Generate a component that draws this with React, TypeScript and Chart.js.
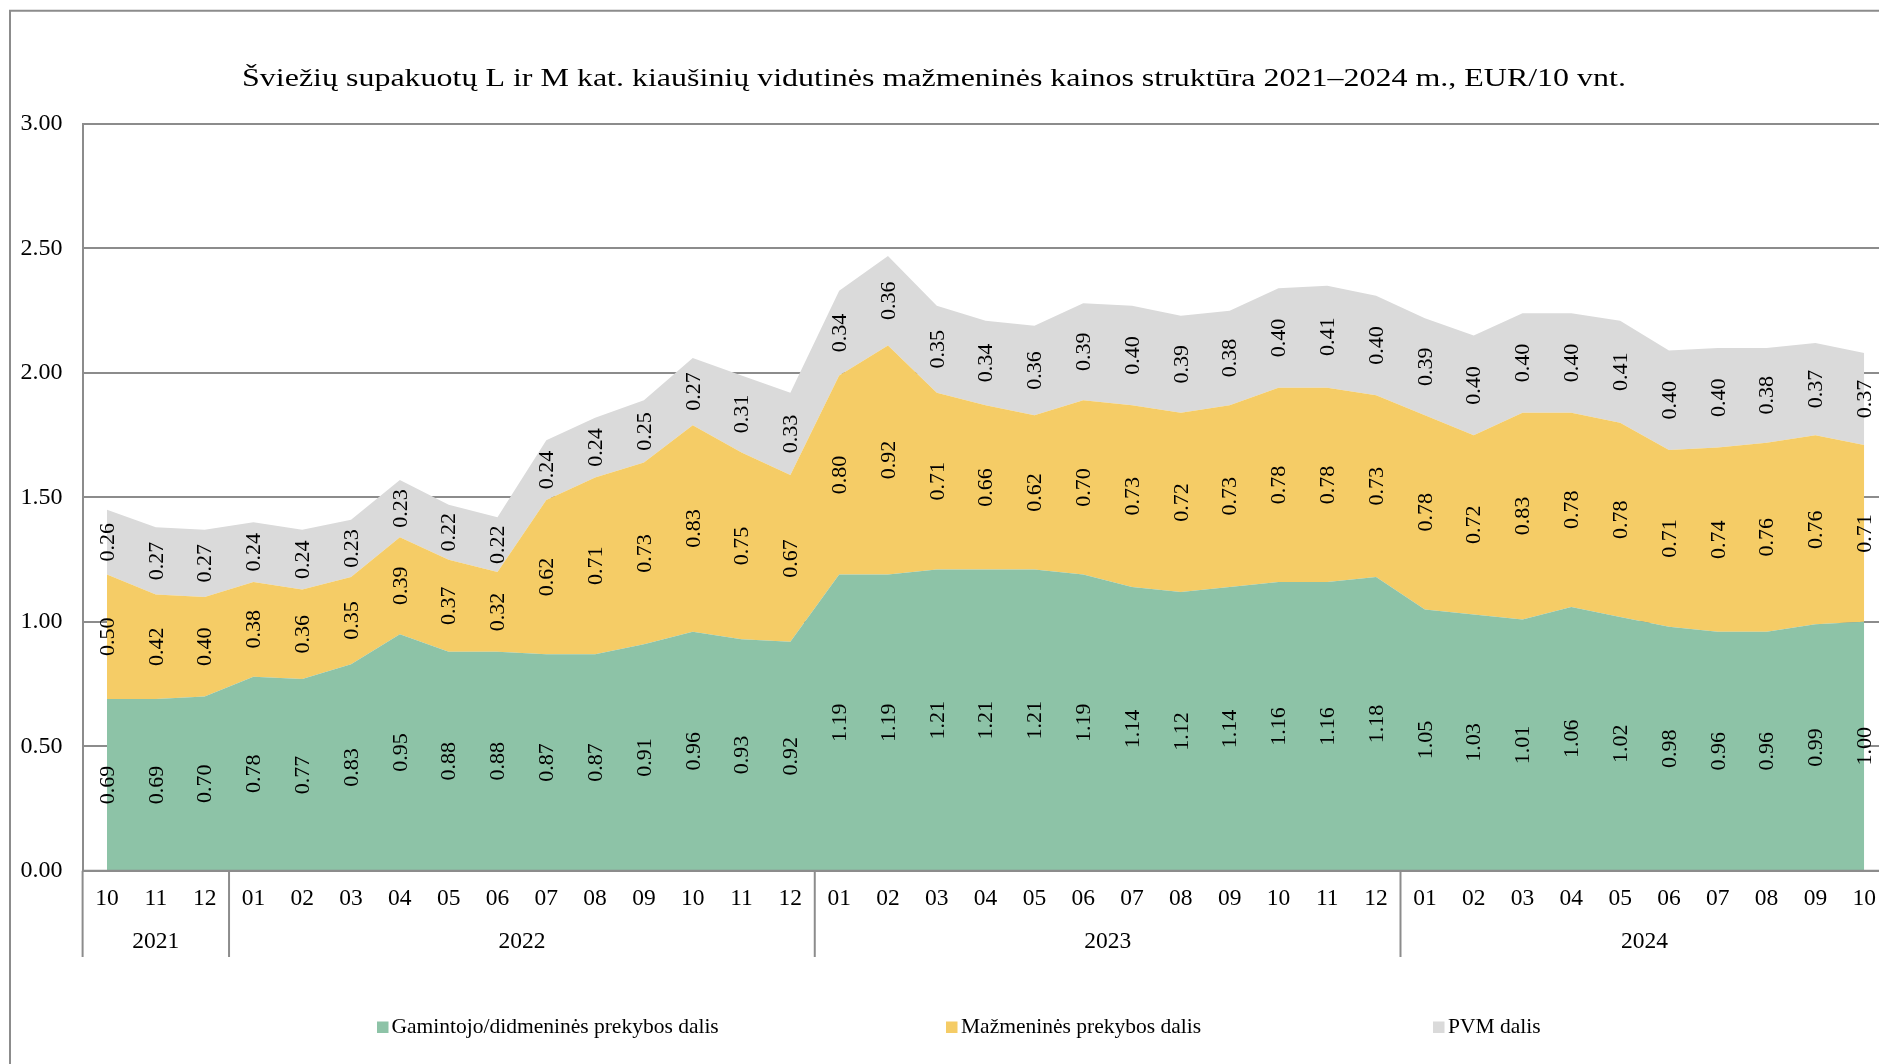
import React, { useEffect, useRef } from "react";
import { Chart, registerables } from "chart.js";

Chart.register(...registerables);

// ---------- DATA ----------
const months = [
  "10", "11", "12",
  "01", "02", "03", "04", "05", "06", "07", "08", "09", "10", "11", "12",
  "01", "02", "03", "04", "05", "06", "07", "08", "09", "10", "11", "12",
  "01", "02", "03", "04", "05", "06", "07", "08", "09", "10",
];
const yearLabels = ["2021", "2022", "2023", "2024"];
const yearCounts = [3, 12, 12, 10];

const producerShare = [
  0.69, 0.69, 0.70,
  0.78, 0.77, 0.83, 0.95, 0.88, 0.88, 0.87, 0.87, 0.91, 0.96, 0.93, 0.92,
  1.19, 1.19, 1.21, 1.21, 1.21, 1.19, 1.14, 1.12, 1.14, 1.16, 1.16, 1.18,
  1.05, 1.03, 1.01, 1.06, 1.02, 0.98, 0.96, 0.96, 0.99, 1.00,
];
const retailShare = [
  0.50, 0.42, 0.40,
  0.38, 0.36, 0.35, 0.39, 0.37, 0.32, 0.62, 0.71, 0.73, 0.83, 0.75, 0.67,
  0.80, 0.92, 0.71, 0.66, 0.62, 0.70, 0.73, 0.72, 0.73, 0.78, 0.78, 0.73,
  0.78, 0.72, 0.83, 0.78, 0.78, 0.71, 0.74, 0.76, 0.76, 0.71,
];
const vatShare = [
  0.26, 0.27, 0.27,
  0.24, 0.24, 0.23, 0.23, 0.22, 0.22, 0.24, 0.24, 0.25, 0.27, 0.31, 0.33,
  0.34, 0.36, 0.35, 0.34, 0.36, 0.39, 0.40, 0.39, 0.38, 0.40, 0.41, 0.40,
  0.39, 0.40, 0.40, 0.40, 0.41, 0.40, 0.40, 0.38, 0.37, 0.37,
];
const seriesNames = [
  "Gamintojo/didmeninės prekybos dalis",
  "Mažmeninės prekybos dalis",
  "PVM dalis",
];
const titleText =
  "Šviežių supakuotų L ir M kat. kiaušinių vidutinės mažmeninės kainos struktūra 2021–2024 m., EUR/10 vnt.";
const yMin = 0;
const yMax = 3;
const yStep = 0.5;

// ---------- STYLE ----------
const FONT = "'Liberation Serif', 'Times New Roman', Times, serif";
const COLORS = ["#8DC3A7", "#F5CC66", "#DADADA"];
const LINE = "#8C8C8C";

const CANVAS_W = 1920;
const CANVAS_H = 1056;
const AREA_LEFT = 74.6;
const AREA_RIGHT = 1880.6;
const AREA_TOP = 116;
const AREA_BOTTOM = 862.8;

const legendPos = [
  { box: 369, text: 383.5 },
  { box: 938, text: 953 },
  { box: 1425, text: 1440 },
];

const decorPlugin = {
  id: "decor",
  beforeDraw(chart: any) {
    const ctx = chart.ctx;
    ctx.save();
    ctx.fillStyle = "#fff";
    ctx.fillRect(0, 0, chart.width, chart.height);
    // outer frame (top + left)
    ctx.strokeStyle = LINE;
    ctx.lineWidth = 2;
    ctx.beginPath();
    ctx.moveTo(2, chart.height + 5);
    ctx.lineTo(2, 2.7);
    ctx.lineTo(chart.width + 5, 2.7);
    ctx.stroke();
    // title
    ctx.fillStyle = "#000";
    ctx.font = `26px ${FONT}`;
    ctx.textAlign = "center";
    ctx.textBaseline = "alphabetic";
    ctx.translate(926, 78);
    ctx.scale(1.23, 1);
    ctx.fillText(titleText, 0, 0);
    ctx.restore();
  },
  afterDatasetsDraw(chart: any) {
    const ctx = chart.ctx;
    const xs = chart.scales.x;
    const ys = chart.scales.y;
    const area = chart.chartArea;
    ctx.save();
    // x axis line
    ctx.strokeStyle = LINE;
    ctx.lineWidth = 2;
    ctx.beginPath();
    ctx.moveTo(area.left, area.bottom);
    ctx.lineTo(area.right, area.bottom);
    ctx.stroke();

    // data labels
    ctx.fillStyle = "#000";
    ctx.font = `22px ${FONT}`;
    ctx.textAlign = "center";
    ctx.textBaseline = "middle";
    const series = [producerShare, retailShare, vatShare];
    for (let j = 0; j < months.length; j++) {
      let base = 0;
      const x = xs.getPixelForValue(j);
      for (let s = 0; s < series.length; s++) {
        const v = series[s][j];
        const y = ys.getPixelForValue(base + v / 2);
        ctx.save();
        ctx.translate(x, y);
        ctx.rotate(-Math.PI / 2);
        ctx.fillText(v.toFixed(2), 0, 1);
        ctx.restore();
        base += v;
      }
    }

    // group separators + year labels
    const catW = xs.getPixelForValue(1) - xs.getPixelForValue(0);
    let idx = 0;
    ctx.strokeStyle = LINE;
    ctx.lineWidth = 2;
    ctx.font = `23.5px ${FONT}`;
    for (let g = 0; g < yearLabels.length; g++) {
      const startX = xs.getPixelForValue(idx) - catW / 2;
      const endX = xs.getPixelForValue(idx + yearCounts[g] - 1) + catW / 2;
      ctx.beginPath();
      ctx.moveTo(startX, area.bottom);
      ctx.lineTo(startX, 949);
      ctx.stroke();
      ctx.fillText(yearLabels[g], (startX + endX) / 2, 934);
      idx += yearCounts[g];
    }

    // legend
    ctx.font = `21.5px ${FONT}`;
    ctx.textAlign = "left";
    for (let s = 0; s < seriesNames.length; s++) {
      ctx.fillStyle = COLORS[s];
      ctx.fillRect(legendPos[s].box, 1013.5, 11.5, 11.5);
      ctx.fillStyle = "#000";
      ctx.fillText(seriesNames[s], legendPos[s].text, 1019.5);
    }
    ctx.restore();
  },
};

export default function App() {
  const ref = useRef<HTMLCanvasElement | null>(null);

  useEffect(() => {
    document.documentElement.style.overflow = "hidden";
    document.body.style.overflow = "hidden";
    if (!ref.current) return;
    const chart = new Chart(ref.current, {
      type: "line",
      data: {
        labels: months,
        datasets: [producerShare, retailShare, vatShare].map((d, i) => ({
          label: seriesNames[i],
          data: d,
          backgroundColor: COLORS[i],
          borderColor: COLORS[i],
          borderWidth: 0,
          pointRadius: 0,
          tension: 0,
          fill: i === 0 ? "origin" : "-1",
        })),
      },
      options: {
        animation: false,
        responsive: true,
        maintainAspectRatio: false,
        layout: {
          padding: { left: 0, top: AREA_TOP, right: CANVAS_W - AREA_RIGHT, bottom: 0 },
        },
        plugins: {
          legend: { display: false },
          title: { display: false },
          tooltip: { enabled: false },
        },
        scales: {
          x: {
            type: "category",
            offset: true,
            grid: { display: false, drawTicks: false },
            border: { display: false },
            ticks: {
              autoSkip: false,
              maxRotation: 0,
              minRotation: 0,
              padding: 14,
              color: "#000",
              font: { family: FONT, size: 23.5 },
            },
            afterFit(scale: any) {
              scale.height = CANVAS_H - AREA_BOTTOM;
            },
          },
          y: {
            stacked: true,
            min: yMin,
            max: yMax,
            grid: { color: LINE, lineWidth: 2, drawTicks: false },
            border: { display: true, color: LINE, width: 2 },
            ticks: {
              stepSize: yStep,
              padding: 20,
              color: "#000",
              font: { family: FONT, size: 24 },
              callback: (v: any) => Number(v).toFixed(2),
            },
            afterFit(scale: any) {
              scale.width = AREA_LEFT;
            },
          },
        },
      },
      plugins: [decorPlugin],
    });
    return () => chart.destroy();
  }, []);

  return (
    <div style={{ position: "relative", width: 1879, height: CANVAS_H, overflow: "hidden" }}>
      <div style={{ position: "absolute", left: 0, top: 0, width: CANVAS_W, height: CANVAS_H }}>
        <canvas ref={ref} />
      </div>
    </div>
  );
}
